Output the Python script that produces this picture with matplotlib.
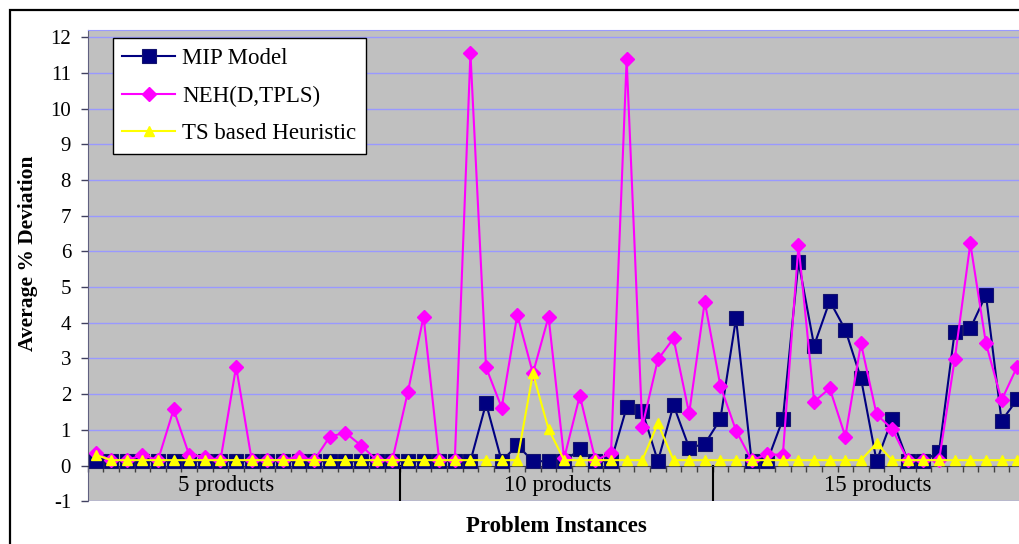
import matplotlib
matplotlib.use('Agg')
import matplotlib.pyplot as plt
from matplotlib.patches import Rectangle
import numpy as np

# ---------------- data ----------------
series_names = ['MIP Model', 'NEH(D,TPLS)', 'TS based Heuristic']
group_labels = ['5 products', '10 products', '15 products']
group_label_pos = [8.85, 30.1, 50.6]
instances_per_group = 20

mip = [0.12] * 20 + \
      [0.12, 0.12, 0.12, 0.12, 0.12, 1.74, 0.12, 0.57, 0.12, 0.12,
       0.12, 0.45, 0.12, 0.12, 1.63, 1.53, 0.12, 1.69, 0.50, 0.60] + \
      [1.30, 4.12, 0.12, 0.12, 1.30, 5.71, 3.36, 4.61, 3.80, 2.44,
       0.12, 1.30, 0.12, 0.12, 0.39, 3.75, 3.84, 4.78, 1.25, 1.85]

neh = [0.35, 0.15, 0.15, 0.29, 0.15, 1.57, 0.29, 0.25, 0.15, 2.77,
       0.15, 0.15, 0.15, 0.25, 0.15, 0.81, 0.92, 0.56, 0.15, 0.15] + \
      [2.07, 4.17, 0.15, 0.15, 11.55, 2.75, 1.62, 4.22, 2.58, 4.17,
       0.20, 1.96, 0.15, 0.34, 11.38, 1.09, 2.97, 3.56, 1.46, 4.59] + \
      [2.23, 0.98, 0.15, 0.31, 0.30, 6.18, 1.79, 2.16, 0.81, 3.42,
       1.43, 1.02, 0.15, 0.15, 0.15, 2.97, 6.22, 3.42, 1.83, 2.77]

ts = [0.30] + [0.15] * 19 + \
     [0.15] * 8 + [2.58, 1.02] + [0.15] * 6 + [1.18] + [0.15] * 3 + \
     [0.15] * 10 + [0.62] + [0.15] * 9

y_ticks = list(range(-1, 13))

# ---------------- style ----------------
plt.rcParams['font.family'] = ['Liberation Serif', 'DejaVu Serif']

W, H = 1019, 544
fig = plt.figure(figsize=(W / 100, H / 100), dpi=100)
fig.patch.set_facecolor('white')

ax_left, ax_right, ax_top, ax_bottom = 87.7, 1025.0, 30.0, 501.2
ax = fig.add_axes([ax_left / W, 1 - ax_bottom / H,
                   (ax_right - ax_left) / W, (ax_bottom - ax_top) / H])
ax.set_facecolor('#c0c0c0')

n = len(mip)
x = np.arange(n) + 0.5
ax.set_xlim(0, n)
ax.set_ylim(-1, 12.2)

ax.set_yticks(y_ticks)
ax.set_yticklabels([str(v) for v in y_ticks], fontsize=15)
ax.yaxis.grid(True, color='#9999ff', lw=1.0, zorder=0)
ax.set_axisbelow(True)
ax.tick_params(axis='y', direction='out', length=5, width=1, color='#404060', pad=7)

# category axis crossing at 0
ax.spines['bottom'].set_position(('data', 0))
ax.spines['bottom'].set_color('#404040')
ax.set_xticks(np.arange(0, n + 1))
ax.set_xticklabels([])
ax.tick_params(axis='x', direction='out', length=4, width=1, color='#404040')
ax.spines['top'].set_color('#9999ff')
ax.spines['right'].set_visible(False)
ax.spines['left'].set_color('#606080')

# group dividers and labels
for k in range(1, len(group_labels)):
    ax.plot([k * instances_per_group] * 2, [0, -1], color='black', lw=1.5, zorder=2)
for lbl, pos in zip(group_labels, group_label_pos):
    ax.text(pos, -0.55, lbl, ha='center', va='center', fontsize=16.5)

# series
ax.plot(x, mip, color='#000080', lw=1.5, marker='s', ms=10,
        mfc='#000080', mec='#14146e', mew=0.8, zorder=3, label=series_names[0])
ax.plot(x, neh, color='#ff00ff', lw=1.5, marker='D', ms=7.0,
        mfc='#ff00ff', mec='#ff00ff', zorder=4, label=series_names[1])
ax.plot(x, ts, color='#ffff00', lw=1.5, marker='^', ms=7.8,
        mfc='#ffff00', mec='#ffff00', zorder=5, label=series_names[2])

leg = ax.legend(loc='upper left',
                bbox_to_anchor=((112.7 - ax_left) / (ax_right - ax_left),
                                (ax_bottom - 38.3) / (ax_bottom - ax_top)),
                borderaxespad=0, fontsize=16.5, frameon=True, fancybox=False,
                edgecolor='black', facecolor='white', framealpha=1,
                handlelength=2.3, handletextpad=0.3, labelspacing=0.72,
                borderpad=0.42)
leg.get_frame().set_linewidth(1.0)
leg.set_zorder(10)

# axis titles
fig.text(28 / W, 1 - 253 / H, 'Average % Deviation', rotation=90,
         fontweight='bold', fontsize=15.5, ha='center', va='center')
fig.text(556 / W, 1 - 526 / H, 'Problem Instances',
         fontweight='bold', fontsize=16.5, ha='center', va='center')

# outer chart border
fig.add_artist(Rectangle((10 / W, -0.1), 1.2, (H - 10.5) / H + 0.1,
                         transform=fig.transFigure, fill=False,
                         ec='black', lw=1.6))

fig.savefig('out.png', dpi=100)
